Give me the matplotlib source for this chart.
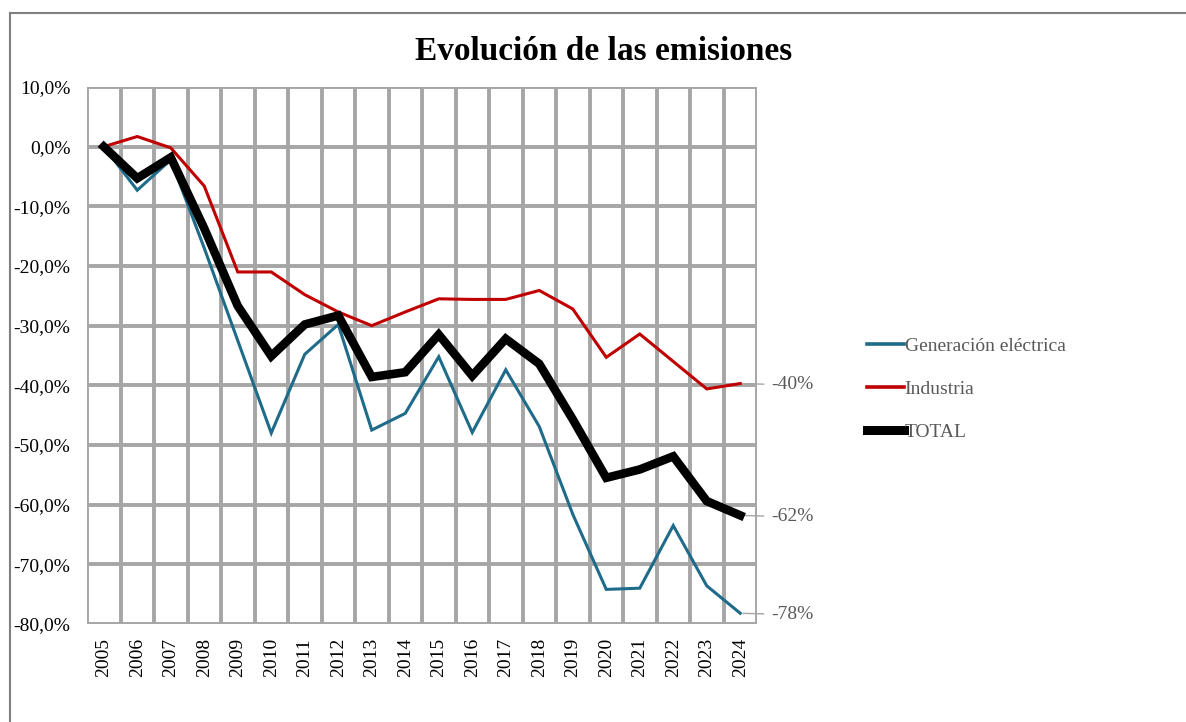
import matplotlib
matplotlib.use("Agg")
import matplotlib.pyplot as plt
from matplotlib.lines import Line2D

# datos (% de variación respecto a 2005)
years = [str(y) for y in range(2005, 2025)]
generacion = [0.0, -7.3, -2.2, -17.0, -32.5, -48.0, -34.8, -29.8, -47.5, -44.7,
              -35.2, -47.9, -37.4, -46.9, -61.6, -74.2, -74.0, -63.5, -73.6, -78.2]
industria = [0.0, 1.7, -0.2, -6.6, -21.0, -21.0, -24.8, -27.7, -30.0, -27.7,
             -25.5, -25.6, -25.6, -24.1, -27.2, -35.3, -31.4, -36.0, -40.6, -39.7]
total = [0.0, -5.3, -1.8, -13.7, -26.7, -35.1, -29.8, -28.3, -38.6, -37.8,
         -31.5, -38.4, -32.2, -36.4, -45.7, -55.5, -54.1, -51.9, -59.4, -61.8]
yticks = [10, 0, -10, -20, -30, -40, -50, -60, -70, -80]
ytick_labels = ["10,0%", "0,0%", "-10,0%", "-20,0%", "-30,0%", "-40,0%",
                "-50,0%", "-60,0%", "-70,0%", "-80,0%"]

serif = ["Liberation Serif", "DejaVu Serif"]
plt.rcParams["font.family"] = serif

grid_c = "#a6a6a6"
azul = "#1f6b8a"
rojo = "#c00000"
gris_txt = "#595959"

fig = plt.figure(figsize=(11.86, 7.22), dpi=100)
ax = fig.add_axes([87/1186, 1-624/722, (757-87)/1186, (624-87)/722])

x = list(range(len(years)))
ax.plot(x, generacion, color=azul, lw=2.2, solid_joinstyle="miter", zorder=3)
ax.plot(x, industria, color=rojo, lw=2.2, solid_joinstyle="miter", zorder=3)
ax.plot(x, total, color="black", lw=6.2, solid_joinstyle="miter", zorder=4)

ax.set_xlim(-0.5, len(years)-0.5)
ax.set_ylim(-80, 10)
ax.set_yticks(yticks)
ax.set_yticklabels(ytick_labels)
ax.set_xticks(x)
ax.set_xticklabels(years, rotation=90)
ax.set_xticks([i - 0.5 for i in range(len(years)+1)], minor=True)
ax.tick_params(axis="both", which="both", length=0, labelsize=14, colors="black")
ax.tick_params(axis="y", pad=12)
ax.tick_params(axis="x", pad=10)
ax.grid(True, axis="y", which="major", color=grid_c, lw=2.8, zorder=1)
ax.grid(True, axis="x", which="minor", color=grid_c, lw=2.8, zorder=1)
for s in ax.spines.values():
    s.set_visible(False)

# etiquetas del último año
for serie in [industria, total, generacion]:
    v = serie[-1]
    ax.annotate(f"{round(v):.0f}%", xy=(x[-1], v), xytext=(22, -1),
                textcoords="offset points", va="center", ha="left",
                fontsize=14, color=gris_txt, annotation_clip=False,
                arrowprops=dict(arrowstyle="-", color=grid_c, lw=1,
                                shrinkA=3, shrinkB=2))

fig.text(604/1186, 1-51/722, "Evolución de las emisiones", ha="center",
         va="center", fontsize=24, fontweight="bold", family=serif)

handles = [Line2D([], [], color=azul, lw=2.6),
           Line2D([], [], color=rojo, lw=2.6),
           Line2D([], [], color="black", lw=6.5)]
leg = fig.legend(handles, ["Generación eléctrica", "Industria", "TOTAL"],
                 loc="center left", bbox_to_anchor=(859/1186, 1-389/722),
                 frameon=False, fontsize=14, handlelength=1.9,
                 handletextpad=0.05, labelspacing=1.3, borderaxespad=0)
for t in leg.get_texts():
    t.set_color(gris_txt)

# marco del gráfico
fig.add_artist(Line2D([10/1186, 1], [1-13/722, 1-13/722], color="#7f7f7f",
                      lw=1.5, transform=fig.transFigure))
fig.add_artist(Line2D([10/1186, 10/1186], [0, 1-13/722], color="#7f7f7f",
                      lw=1.5, transform=fig.transFigure))

fig.savefig("out.png", dpi=100)
